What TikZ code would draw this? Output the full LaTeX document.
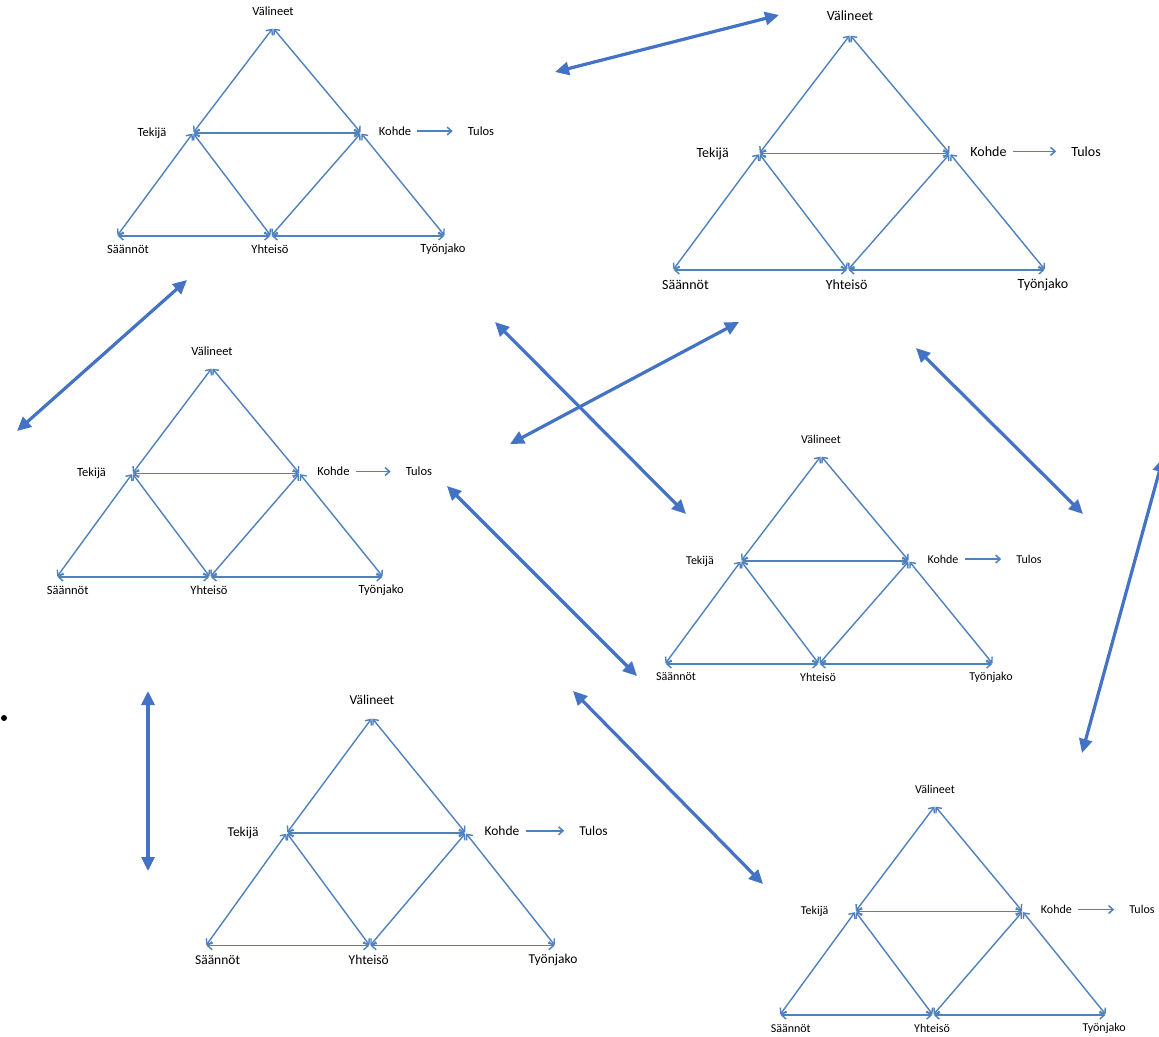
\documentclass[tikz,border=0pt]{standalone}
\usepackage{fontspec}
\setmainfont{Carlito}
\usetikzlibrary{arrows.meta}
\definecolor{relblue}{HTML}{4F81BD}
\definecolor{bigblue}{HTML}{4472C4}
\tikzset{
  rel/.style={draw=relblue, line width=1.4pt, {Straight Barb[length=4.5pt,width=8pt]}-{Straight Barb[length=4.5pt,width=8pt]}, shorten <=0.8pt, shorten >=0.8pt},
  res/.style={draw=relblue, line width=1.5pt, -{Straight Barb[length=4.5pt,width=8pt]}},
  big/.style={draw=bigblue, line width=3.2pt, {Triangle[length=14pt,width=13pt]}-{Triangle[length=14pt,width=13pt]}},
  lab/.style={inner sep=0pt, text=black},
}
\newcommand\triad[6]{%
  \begin{scope}[shift={(#2,#3)}, xscale=#4, yscale=#5]
    \coordinate (#1V) at (0,0);
    \coordinate (#1T) at (-80,105);
    \coordinate (#1K) at (88,105);
    \coordinate (#1S) at (-156,208);
    \coordinate (#1Y) at (-2,208);
    \coordinate (#1J) at (172,208);
    \node[lab, font=\fontsize{#6}{#6}\selectfont] (#1v) at (0,-17) {Välineet};
    \node[lab, font=\fontsize{#6}{#6}\selectfont] (#1t) at (-121,105) {Tekijä};
    \node[lab, font=\fontsize{#6}{#6}\selectfont] (#1k) at (122,103) {Kohde};
    \node[lab, font=\fontsize{#6}{#6}\selectfont] (#1u) at (208,103) {Tulos};
    \node[lab, font=\fontsize{#6}{#6}\selectfont] (#1s) at (-145,221) {Säännöt};
    \node[lab, font=\fontsize{#6}{#6}\selectfont] (#1y) at (-3,221) {Yhteisö};
    \node[lab, font=\fontsize{#6}{#6}\selectfont] (#1j) at (170,221) {Työnjako};
  \end{scope}
  \draw[rel] (#1T) -- (#1V);
  \draw[rel] (#1V) -- (#1K);
  \draw[rel] (#1T) -- (#1K);
  \draw[rel] (#1T) -- (#1S);
  \draw[rel] (#1T) -- (#1Y);
  \draw[rel] (#1K) -- (#1Y);
  \draw[rel] (#1K) -- (#1J);
  \draw[rel] (#1S) -- (#1Y);
  \draw[rel] (#1Y) -- (#1J);
  \draw[res, shorten <=6pt, shorten >=15pt] (#1k.east) -- (#1u.west);
}
\begin{document}
\begin{tikzpicture}[x=1pt, y=-1pt]
  \clip (0,0) rectangle (1159,1036);
  \useasboundingbox (0,0) rectangle (1159,1036);
  \fill[white] (0,0) rectangle (1159,1036);

  \triad{a}{273}{28}{1}{1}{12.5}
  \triad{b}{850}{35}{1.135}{1.13}{14}
  \triad{c}{212}{368}{0.995}{1.005}{12.5}
  \triad{d}{821}{456}{1.0}{1.0}{12}
  \triad{e}{372}{718}{1.065}{1.095}{13.5}
  \triad{f}{935}{806}{0.995}{1.005}{12}

  % thick double arrows between systems
  \coordinate (p1a) at (555,72);   \coordinate (p1b) at (779,15);
  \coordinate (p2a) at (17,431);   \coordinate (p2b) at (187,280);
  \coordinate (p3a) at (495,322);  \coordinate (p3b) at (686,514);
  \coordinate (p4a) at (510,444);  \coordinate (p4b) at (739,322);
  \coordinate (p5a) at (916,348);  \coordinate (p5b) at (1083,514);
  \coordinate (p6a) at (1163,458); \coordinate (p6b) at (1082,753);
  \coordinate (p7a) at (447,486);  \coordinate (p7b) at (637,676);
  \coordinate (p8a) at (148,691);  \coordinate (p8b) at (148,871);
  \coordinate (p9a) at (573,691);  \coordinate (p9b) at (763,884);
  \draw[big] (p1a) -- (p1b);
  \draw[big] (p2a) -- (p2b);
  \draw[big] (p3a) -- (p3b);
  \draw[big] (p4a) -- (p4b);
  \draw[big] (p5a) -- (p5b);
  \draw[big] (p6a) -- (p6b);
  \draw[big] (p7a) -- (p7b);
  \draw[big] (p8a) -- (p8b);
  \draw[big] (p9a) -- (p9b);

  \fill[black] (4,718) circle (3);
\end{tikzpicture}
\end{document}
